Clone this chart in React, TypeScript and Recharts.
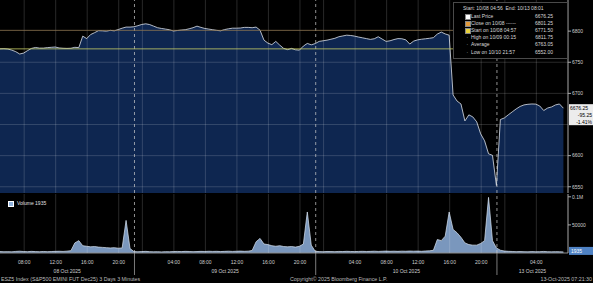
import { AreaChart, Area, XAxis, YAxis, ReferenceLine } from 'recharts';

const FONT = '"Liberation Sans", Arial, sans-serif';

// trading sessions (London time); the daily breaks and the weekend are squeezed out
const sessions = [
  { date: '08 Oct 2025', open: '04:56', close: '22:00' },
  { date: '09 Oct 2025', open: '23:00', close: '22:00' },
  { date: '10 Oct 2025', open: '23:00', close: '22:00' },
  { date: '13 Oct 2025', open: '23:00', close: '08:01' },
];

const hourLabels = [
  ['08:00', '12:00', '16:00', '20:00'],
  ['00:00', '04:00', '08:00', '12:00', '16:00', '20:00'],
  ['00:00', '04:00', '08:00', '12:00', '16:00', '20:00'],
  ['00:00', '04:00'],
];

// one sample every half hour of trading time from 10/08 04:56
const STEP = 0.5;

const prices = [
  6771.5, 6771.75, 6771.25, 6769.5, 6767, 6763.25, 6764.75, 6768.75, 6772.25, 6773.75,
  6772.75, 6772.75, 6773.5, 6774, 6774.5, 6773, 6772.5, 6772.25, 6772.5, 6774,
  6773.5, 6792, 6788, 6794.5, 6797.5, 6800.75, 6800.5, 6800, 6801.25, 6800.5,
  6802.5, 6804.75, 6806.5, 6806.5, 6807, 6808.75, 6810.75, 6811.75, 6810.5, 6808,
  6805.5, 6804.25, 6803.25, 6802.25, 6800.25, 6801, 6801.75, 6802.25, 6803.75, 6805.5,
  6808, 6806, 6804.25, 6803.25, 6802.25, 6801.25, 6800.5, 6802.5, 6803.75, 6804.75,
  6804.75, 6805, 6806, 6806, 6805.5, 6806.5, 6801.5, 6785.5, 6780.75, 6778.25,
  6783.5, 6777.5, 6772.25, 6770.25, 6772.25, 6770, 6769.5, 6776, 6780.25, 6778,
  6780, 6783.5, 6784.5, 6785.5, 6787, 6788.5, 6791, 6792.25, 6793.5, 6793,
  6792, 6790.5, 6789.25, 6788, 6786.75, 6787.75, 6791, 6787.25, 6783.5, 6784.5,
  6786.5, 6788, 6787.75, 6786, 6779.25, 6784, 6786, 6787, 6787.75, 6788.5,
  6789.5, 6795.25, 6798.5, 6795.5, 6793.5, 6697.5, 6687.75, 6683, 6655.75, 6665.5,
  6662.25, 6654.25, 6635, 6623.75, 6603, 6600.5, 6552, 6658, 6660.5, 6665.5,
  6670.25, 6675, 6679, 6681.5, 6682.5, 6683, 6682.75, 6679.75, 6672.5, 6676.5,
  6678.25, 6681.5, 6683, 6676.25,
];

const volumes = [
  2600, 2200, 2400, 2100, 2800, 3200, 2600, 2400, 2900, 2500,
  2300, 2700, 2400, 2600, 2900, 3100, 2800, 3300, 4200, 18000,
  22000, 13000, 12000, 11000, 11500, 10500, 10000, 9500, 9000, 9500,
  8500, 9000, 58000, 8000, 2500, 2200, 2600, 2900, 2400, 2100,
  2300, 2000, 2400, 2200, 2600, 2800, 2500, 2900, 2700, 2400,
  2600, 2900, 2700, 3100, 2800, 3000, 2600, 2900, 3200, 2800,
  3100, 3400, 3000, 3300, 4500, 20000, 26000, 16000, 15000, 13000,
  12000, 13000, 11500, 11000, 11500, 10500, 12000, 16000, 73000, 14000,
  3000, 2500, 2300, 2700, 2600, 2400, 2800, 2600, 3000, 2700,
  2500, 2800, 3000, 2700, 2900, 3200, 2800, 3100, 3400, 3000,
  3200, 2900, 3300, 3100, 3500, 3200, 3400, 3000, 3600, 3900,
  4800, 24000, 22000, 30000, 73000, 42000, 36000, 28000, 18000, 15000,
  14000, 14000, 17000, 22000, 99000, 22000, 9000, 5000, 3500, 3000,
  2700, 2400, 2600, 2300, 2100, 2500, 2200, 2400, 2800, 2300,
  2100, 2400, 2200, 1935,
];

const priceTicks = [6550, 6600, 6700, 6750, 6800];
const priceGrid = [6550, 6600, 6650, 6700, 6750];
const volumeTicks = [50000, 100000];

const startPrice = 6771.5;
const closePrice = 6801.25;
const lastPrice = 6676.25;
const lastVolume = 1935;
const netChange = '-95.25';
const pctChange = '-1.41%';

const legendRows = [
  { label: 'Last Price', value: '6676.25', color: '#ffffff' },
  { label: 'Close on 10/08 ------', value: '6801.25', color: '#e39a3b' },
  { label: 'Start on 10/08 04:57', value: '6771.50', color: '#e8d13a' },
  { label: 'High on 10/09 00:15', value: '6811.75' },
  { label: 'Average', value: '6763.05' },
  { label: 'Low on 10/10 21:57', value: '6552.00' },
];

const toMin = (s: string) => {
  const [h, m] = s.split(':').map(Number);
  return h * 60 + m;
};
const since = (from: string, to: string) => ((toMin(to) - toMin(from) + 1440) % 1440) / 60;
const lengths = sessions.map((s) => since(s.open, s.close));
const offsets = lengths.map((_, k) => lengths.slice(0, k).reduce((a, b) => a + b, 0));
const at = (k: number, hhmm: string) => offsets[k] + since(sessions[k].open, hhmm);
const END = offsets[3] + lengths[3];

const hourTicks = hourLabels.flatMap((list, k) => list.map((label) => ({ t: at(k, label), label })));
const breaks = offsets.slice(1);
const dateTicks = sessions.map((s, k) => ({ t: offsets[k] + lengths[k] / 2, label: s.date }));

const axisTicks = [
  ...hourTicks.filter((h) => h.label !== '00:00').map((h) => h.t),
  ...breaks,
  ...dateTicks.map((d) => d.t),
];

const data = prices.map((price, i) => ({ t: i * STEP, price, volume: volumes[i] }));

const GRID = 'rgba(255,255,255,0.2)';
const TEXT = '#cfcfcf';

function TimeTick({ x, y, payload }: any) {
  const v = payload.value;
  const near = (a: number) => Math.abs(a - v) < 1e-6;
  const hour = hourTicks.find((h) => near(h.t));
  if (hour) {
    return (
      <text x={x} y={y + 11} fill={TEXT} fontSize={5} textAnchor='middle' fontFamily={FONT}>
        {hour.label}
      </text>
    );
  }
  const date = dateTicks.find((d) => near(d.t));
  if (date) {
    return (
      <text x={x} y={y + 20} fill={TEXT} fontSize={5} textAnchor='middle' fontFamily={FONT}>
        {date.label}
      </text>
    );
  }
  return <line x1={x} x2={x} y1={y} y2={y + 22} stroke='#9a9a9a' strokeWidth={0.8} />;
}

function PriceBadge({ viewBox }: any) {
  if (!viewBox) return null;
  const x = viewBox.x + viewBox.width + 1;
  const y = viewBox.y;
  return (
    <g fontFamily={FONT} fontSize={5}>
      <rect x={x} y={y - 4} width={25} height={21} fill='#ececec' />
      <text x={x + 1} y={y + 2} fill='#000'>{lastPrice.toFixed(2)}</text>
      <text x={x + 23} y={y + 9} fill='#000' textAnchor='end'>{netChange}</text>
      <text x={x + 23} y={y + 15.5} fill='#000' textAnchor='end'>{pctChange}</text>
    </g>
  );
}

function VolumeBadge({ viewBox }: any) {
  if (!viewBox) return null;
  const x = viewBox.x + viewBox.width + 1;
  const y = viewBox.y;
  return (
    <g fontFamily={FONT} fontSize={5}>
      <rect x={x} y={y - 5} width={25} height={8} fill='#4f82c4' />
      <text x={x + 2} y={y + 1} fill='#fff'>{lastVolume}</text>
    </g>
  );
}

const yTick = { fill: TEXT, fontSize: 5, fontFamily: FONT };

export default function App() {
  return (
    <div
      style={{
        position: 'absolute',
        left: 0,
        top: 0,
        width: 593,
        height: 283,
        background: '#000',
        overflow: 'hidden',
        fontFamily: FONT,
      }}
    >
      <div style={{ position: 'absolute', left: 0, top: 0 }}>
        <AreaChart width={593} height={193} data={data} margin={{ top: 0, right: 0, bottom: 0, left: 0 }}>
          <XAxis dataKey='t' type='number' domain={[0, END]} hide />
          <YAxis
            orientation='right'
            width={25}
            domain={[6540, 6850]}
            ticks={priceTicks}
            interval={0}
            tick={yTick}
            tickSize={3}
            tickMargin={1}
            stroke='#a8a8a8'
          />
          <Area
            type='linear'
            dataKey='price'
            stroke='#dfe4ec'
            strokeWidth={0.8}
            fill='#0e2650'
            fillOpacity={1}
            dot={false}
            activeDot={false}
            isAnimationActive={false}
          />
          {priceGrid.map((v) => (
            <ReferenceLine key={'h' + v} y={v} stroke={GRID} strokeWidth={0.8} zIndex={500} />
          ))}
          {hourTicks.map((h) => (
            <ReferenceLine key={'v' + h.t} x={h.t} stroke={GRID} strokeWidth={0.8} zIndex={500} />
          ))}
          {breaks.map((b) => (
            <ReferenceLine
              key={'b' + b}
              x={b}
              stroke='#cfcfcf'
              strokeWidth={0.7}
              strokeDasharray='3 3'
              zIndex={500}
            />
          ))}
          <ReferenceLine y={closePrice} stroke='#8b7550' strokeWidth={0.8} zIndex={500} />
          <ReferenceLine y={startPrice} stroke='#c7cd66' strokeWidth={0.8} zIndex={500} />
          <ReferenceLine y={lastPrice} stroke='none' label={<PriceBadge />} zIndex={500} />
        </AreaChart>
      </div>

      <div
        style={{
          position: 'absolute',
          left: 453,
          top: 2,
          width: 113,
          height: 55,
          border: '1px solid #4a4a4a',
          background: '#000',
          color: '#d8d8d8',
          fontSize: 5,
          lineHeight: '7.2px',
        }}
      >
        <div style={{ position: 'absolute', left: 9, top: 2, whiteSpace: 'nowrap' }}>
          Start: 10/08 04:56&nbsp;&nbsp;End: 10/13 08:01
        </div>
        {legendRows.map((r, i) => (
          <div key={r.label} style={{ position: 'absolute', left: 11, top: 9.5 + i * 7.2, width: 88, whiteSpace: 'nowrap' }}>
            {r.color ? (
              <span
                style={{
                  position: 'absolute',
                  left: 0,
                  top: 1.5,
                  width: 4,
                  height: 4,
                  background: r.color,
                  border: '0.5px solid #888',
                }}
              />
            ) : (
              <span style={{ position: 'absolute', left: 1.5, top: 0 }}>·</span>
            )}
            <span style={{ position: 'absolute', left: 6 }}>{r.label}</span>
            <span style={{ position: 'absolute', right: 0 }}>{r.value}</span>
          </div>
        ))}
      </div>

      <div style={{ position: 'absolute', left: 0, top: 194 }}>
        <AreaChart width={593} height={81} data={data} margin={{ top: 0, right: 0, bottom: 0, left: 0 }}>
          <XAxis
            dataKey='t'
            type='number'
            domain={[0, END]}
            ticks={axisTicks}
            interval={0}
            height={22}
            tickSize={0}
            tickMargin={0}
            tick={<TimeTick />}
            stroke='#8c8c8c'
          />
          <YAxis
            orientation='right'
            width={25}
            domain={[0, 105000]}
            ticks={volumeTicks}
            interval={0}
            tick={yTick}
            tickSize={3}
            tickMargin={1}
            tickFormatter={(v) => (v === 100000 ? '0.1M' : String(v))}
            stroke='#a8a8a8'
          />
          <Area
            type='linear'
            dataKey='volume'
            stroke='#dbe6f5'
            strokeWidth={0.7}
            fill='#8fb2de'
            fillOpacity={0.85}
            dot={false}
            activeDot={false}
            isAnimationActive={false}
          />
          {hourTicks.map((h) => (
            <ReferenceLine key={'v' + h.t} x={h.t} stroke={GRID} strokeWidth={0.8} zIndex={500} />
          ))}
          {breaks.map((b) => (
            <ReferenceLine
              key={'b' + b}
              x={b}
              stroke='#cfcfcf'
              strokeWidth={0.7}
              strokeDasharray='3 3'
              zIndex={500}
            />
          ))}
          <ReferenceLine y={lastVolume} stroke='none' label={<VolumeBadge />} zIndex={500} />
        </AreaChart>
      </div>

      <div
        style={{
          position: 'absolute',
          left: 8,
          top: 200,
          color: '#e0e0e0',
          fontSize: 5,
          lineHeight: '6px',
          whiteSpace: 'nowrap',
        }}
      >
        <span
          style={{
            display: 'inline-block',
            width: 4,
            height: 4,
            background: '#8fb2de',
            border: '0.5px solid #fff',
            marginRight: 3,
            verticalAlign: 'middle',
          }}
        />
        Volume {lastVolume}
      </div>

      <div
        style={{
          position: 'absolute',
          left: 0,
          top: 275,
          width: 593,
          height: 8,
          color: '#bdbdbd',
          fontSize: 5.3,
          lineHeight: '8px',
          whiteSpace: 'nowrap',
        }}
      >
        <span style={{ position: 'absolute', left: 1 }}>ESZ5 Index (S&amp;P500 EMINI FUT Dec25) 3 Days 3 Minutes</span>
        <span style={{ position: 'absolute', left: 290 }}>Copyright© 2025 Bloomberg Finance L.P.</span>
        <span style={{ position: 'absolute', right: 1 }}>13-Oct-2025 07:21:30</span>
      </div>
    </div>
  );
}
